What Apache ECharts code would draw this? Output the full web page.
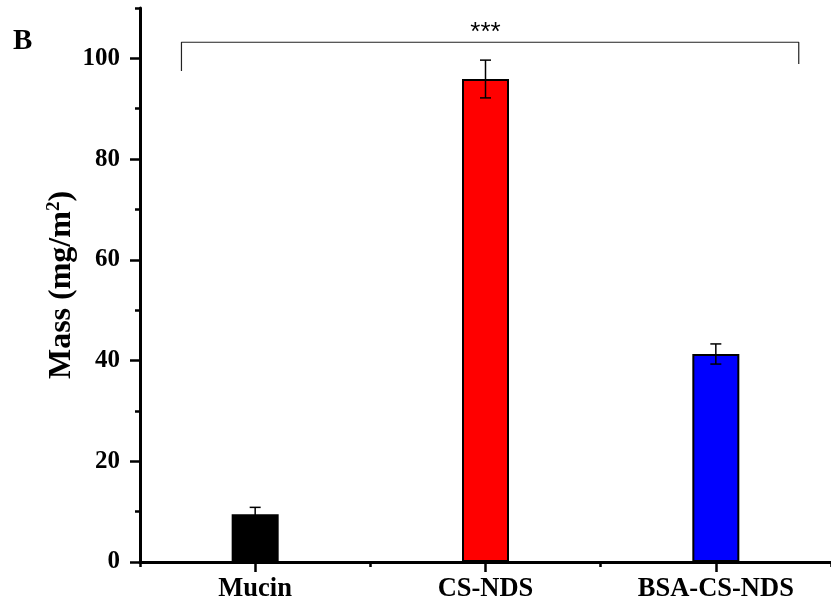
<!DOCTYPE html>
<html>
<head>
<meta charset="utf-8">
<script src="https://cdn.jsdelivr.net/npm/echarts@6/dist/echarts.min.js"></script>
<style>html,body{margin:0;padding:0;background:#fff}#c{width:831px;height:613px}</style>
</head>
<body>
<div id="c"></div>
<script>
// ---- data ----
const categories = ['Mucin', 'CS-NDS', 'BSA-CS-NDS'];
const means = [9.5, 95.9, 41.3];
const errors = [1.35, 3.75, 2.0];
const barColors = ['#000000', '#ff0000', '#0000ff'];
const yLabelTicks = [0, 20, 40, 60, 80, 100];
const bracketX = [-0.32, 2.36];
const bracketTop = 103.2;
const bracketFeet = [97.5, 98.9];
const sigLabel = '***';
const sigX = 1;
const sigY = 105.0;

const SERIF = '"Liberation Serif","Times New Roman",serif';

const chart = echarts.init(document.getElementById('c'), null, {renderer: 'canvas'});

const bracketData = [
  [bracketX[0], bracketFeet[0]],
  [bracketX[0], bracketTop],
  [bracketX[1], bracketTop],
  [bracketX[1], bracketFeet[1]]
];

const option = {
  animation: false,
  backgroundColor: '#ffffff',
  title: {
    text: 'B', left: 8, top: 22,
    textStyle: {fontFamily: SERIF, fontSize: 29, fontWeight: 'bold', color: '#000'}
  },
  grid: {left: 140, right: -5, top: 8, bottom: 51, containLabel: false},
  xAxis: [
    {
      type: 'category', data: categories, gridIndex: 0,
      axisLine: {show: true, onZero: false, lineStyle: {color: '#000', width: 3}},
      axisTick: {show: true, alignWithLabel: true, length: 10, lineStyle: {color: '#000', width: 2.5}},
      axisLabel: {margin: 14, fontFamily: SERIF, fontSize: 26.5, fontWeight: 'bold', color: '#000'},
      splitLine: {show: false}
    },
    {
      type: 'category', data: categories, gridIndex: 0, position: 'bottom',
      axisLine: {show: true, onZero: false, lineStyle: {color: 'rgba(0,0,0,0)', width: 0}},
      axisTick: {show: true, alignWithLabel: false, length: 5, lineStyle: {color: '#000', width: 2.5}},
      axisLabel: {show: false},
      splitLine: {show: false}
    },
    {
      type: 'value', gridIndex: 0, min: -0.5, max: 2.5, show: false
    }
  ],
  yAxis: [
    {
      type: 'value', min: 0, max: 110, interval: 10, position: 'left',
      axisLine: {show: true, onZero: false, lineStyle: {color: '#000', width: 3}},
      axisTick: {show: true, length: 5, lineStyle: {color: '#000', width: 2.5}},
      axisLabel: {
        margin: 20, fontFamily: SERIF, fontSize: 25, fontWeight: 'bold', color: '#000',
        formatter: v => (yLabelTicks.indexOf(v) >= 0 ? String(v) : '')
      },
      splitLine: {show: false},
      name: 'Mass (mg/m{s|2})',
      nameLocation: 'middle',
      nameMoveOverlap: false,
      nameGap: 62,
      nameTextStyle: {
        fontFamily: SERIF, fontSize: 32, fontWeight: 'bold', color: '#000',
        rich: {
          s: {fontFamily: SERIF, fontSize: 19, fontWeight: 'bold', color: '#000', verticalAlign: 'top', padding: [0, 0, 14, 0]}
        }
      }
    },
    {
      type: 'value', min: 0, max: 110, interval: 20, position: 'left', offset: 0,
      axisLine: {show: true, onZero: false, lineStyle: {color: 'rgba(0,0,0,0)', width: 0}},
      axisTick: {show: true, length: 10, customValues: yLabelTicks, lineStyle: {color: '#000', width: 2.5}},
      axisLabel: {show: false},
      splitLine: {show: false}
    }
  ],
  series: [
    {
      type: 'bar', xAxisIndex: 0, yAxisIndex: 0, barWidth: 47,
      data: means.map((v, i) => ({value: v, itemStyle: {color: barColors[i], borderColor: '#000', borderWidth: 2}})),
      z: 2
    },
    {
      type: 'custom', xAxisIndex: 0, yAxisIndex: 0, z: 5,
      data: means.map((m, i) => [i, m - errors[i], m + errors[i]]),
      renderItem: function (params, api) {
        const lo = api.coord([api.value(0), api.value(1)]);
        const hi = api.coord([api.value(0), api.value(2)]);
        const hw = 5.5;
        const st = {stroke: '#000', lineWidth: 1.5};
        return {
          type: 'group',
          children: [
            {type: 'line', shape: {x1: hi[0], y1: hi[1], x2: lo[0], y2: lo[1]}, style: st},
            {type: 'line', shape: {x1: hi[0] - hw, y1: hi[1], x2: hi[0] + hw, y2: hi[1]}, style: st},
            {type: 'line', shape: {x1: lo[0] - hw, y1: lo[1], x2: lo[0] + hw, y2: lo[1]}, style: st}
          ]
        };
      }
    },
    {
      type: 'line', xAxisIndex: 2, yAxisIndex: 0, data: bracketData,
      symbol: 'none', lineStyle: {color: '#222', width: 1.2}, z: 4
    },
    {
      type: 'custom', xAxisIndex: 2, yAxisIndex: 0, z: 6,
      data: [[sigX, sigY]],
      renderItem: function (params, api) {
        const p = api.coord([api.value(0), api.value(1)]);
        return {
          type: 'text',
          style: {x: p[0], y: p[1], text: sigLabel, align: 'center', verticalAlign: 'middle',
                  fontFamily: '"Liberation Sans",Arial,sans-serif', fontSize: 26, fill: '#000'}
        };
      }
    }
  ]
};
chart.setOption(option);
</script>
</body>
</html>
